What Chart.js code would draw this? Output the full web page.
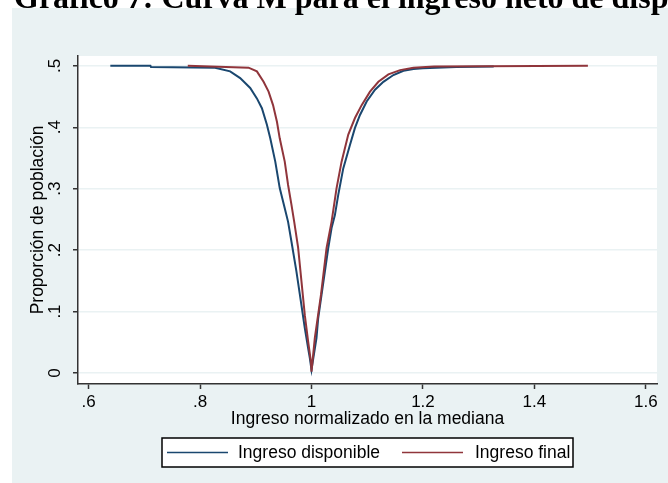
<!DOCTYPE html>
<html>
<head>
<meta charset="utf-8">
<script src="https://cdn.jsdelivr.net/npm/chart.js@4/dist/chart.umd.min.js"></script>
<style>
  html, body { margin: 0; padding: 0; background: #fff; overflow: hidden; }
  #wrap { position: relative; width: 668px; height: 483px; }
  #title {
    position: absolute; left: 14px; top: -19px;
    font: bold 32px "Liberation Serif", "Times New Roman", serif;
    line-height: 32px; white-space: nowrap; color: #000;
  }
</style>
</head>
<body>
<div id="wrap">
  <canvas id="myChart" width="668" height="483"></canvas>
  <div id="title">Gráfico 7: Curva M para el ingreso neto de disponible</div>
</div>
<script>
// Ingreso disponible
var xDisp = [0.639, 0.711, 0.712, 0.827, 0.854, 0.872, 0.890, 0.902, 0.911, 0.920, 0.926, 0.935, 0.943, 0.952, 0.958, 0.964, 0.973, 0.981, 0.988, 0.994, 0.997, 1.000, 1.009, 1.012, 1.018, 1.024, 1.030, 1.036, 1.042, 1.048, 1.057, 1.069, 1.078, 1.087, 1.099, 1.114, 1.129, 1.147, 1.165, 1.183, 1.200, 1.260, 1.327];
var yDisp = [0.500, 0.500, 0.498, 0.497, 0.491, 0.480, 0.464, 0.447, 0.431, 0.404, 0.382, 0.344, 0.301, 0.268, 0.246, 0.214, 0.165, 0.116, 0.073, 0.040, 0.024, 0.005, 0.057, 0.089, 0.127, 0.165, 0.203, 0.236, 0.257, 0.290, 0.333, 0.371, 0.399, 0.420, 0.442, 0.461, 0.474, 0.485, 0.492, 0.495, 0.496, 0.498, 0.499];
// Ingreso final
var xFinal = [0.778, 0.887, 0.902, 0.914, 0.923, 0.931, 0.938, 0.943, 0.952, 0.958, 0.964, 0.969, 0.976, 0.982, 0.988, 0.994, 0.999, 1.000, 1.006, 1.017, 1.027, 1.036, 1.045, 1.054, 1.066, 1.078, 1.090, 1.105, 1.120, 1.138, 1.159, 1.183, 1.220, 1.496];
var yFinal = [0.500, 0.497, 0.491, 0.474, 0.458, 0.436, 0.409, 0.382, 0.344, 0.306, 0.274, 0.246, 0.204, 0.149, 0.094, 0.051, 0.018, 0.002, 0.057, 0.127, 0.203, 0.246, 0.301, 0.344, 0.388, 0.415, 0.436, 0.458, 0.474, 0.486, 0.493, 0.497, 0.499, 0.500];

var xTicks = [0.6, 0.8, 1, 1.2, 1.4, 1.6];
var yTicks = [0, 0.1, 0.2, 0.3, 0.4, 0.5];
var seriesNames = ["Ingreso disponible", "Ingreso final"];

var navy = "#1a476f";
var maroon = "#90353b";
var panelBg = "#eaf2f3";
var font = "Liberation Sans";

function toPoints(xs, ys) {
  return xs.map(function (x, i) { return { x: x, y: ys[i] }; });
}
function stataLabel(v) {
  return String(v).replace(/^0\./, ".");
}

var backgroundPlugin = {
  id: "stataBg",
  beforeDraw: function (chart) {
    var c = chart.ctx, a = chart.chartArea;
    c.save();
    c.fillStyle = panelBg;
    c.fillRect(12, 8, chart.width - 12, chart.height - 8);
    c.fillStyle = "#fff";
    c.fillRect(a.left, a.top, a.right - a.left, a.bottom - a.top);
    c.restore();
  }
};

var legendPlugin = {
  id: "stataLegend",
  afterDraw: function (chart) {
    var c = chart.ctx;
    var box = { left: 162, top: 438, right: 573, bottom: 467 };
    var cy = (box.top + box.bottom) / 2;
    c.save();
    c.fillStyle = "#fff";
    c.fillRect(box.left, box.top, box.right - box.left, box.bottom - box.top);
    c.strokeStyle = "#000";
    c.lineWidth = 1.5;
    c.strokeRect(box.left, box.top, box.right - box.left, box.bottom - box.top);
    var items = [
      { x0: 167, x1: 228, tx: 238 },
      { x0: 402, x1: 463, tx: 475 }
    ];
    c.font = "17.5px '" + font + "'";
    c.textBaseline = "middle";
    c.textAlign = "left";
    chart.data.datasets.forEach(function (ds, i) {
      var it = items[i];
      c.strokeStyle = ds.borderColor;
      c.lineWidth = 1.5;
      c.beginPath();
      c.moveTo(it.x0, cy);
      c.lineTo(it.x1, cy);
      c.stroke();
      c.fillStyle = "#000";
      c.fillText(ds.label, it.tx, cy + 0.5);
    });
    c.restore();
  }
};

var ctx = document.getElementById("myChart").getContext("2d");
var myChart = new Chart(ctx, {
  type: "line",
  data: {
    datasets: [
      {
        label: seriesNames[0],
        data: toPoints(xDisp, yDisp),
        borderColor: navy,
        borderWidth: 2,
        pointRadius: 0,
        tension: 0,
        fill: false,
        order: 2
      },
      {
        label: seriesNames[1],
        data: toPoints(xFinal, yFinal),
        borderColor: maroon,
        borderWidth: 2,
        pointRadius: 0,
        tension: 0,
        fill: false,
        order: 1
      }
    ]
  },
  options: {
    responsive: false,
    animation: false,
    layout: { padding: { left: 0, top: 56, right: 11, bottom: 0 } },
    plugins: {
      legend: { display: false },
      tooltip: { enabled: false }
    },
    scales: {
      x: {
        type: "linear",
        min: 0.581,
        max: 1.62,
        afterBuildTicks: function (s) { s.ticks = xTicks.map(function (v) { return { value: v }; }); },
        afterFit: function (s) { s.height = 99; },
        grid: { display: true, drawOnChartArea: false, tickLength: 5, tickColor: "#333", tickWidth: 1.5 },
        border: { color: "#333", width: 1.5 },
        ticks: {
          color: "#000",
          font: { family: font, size: 17 },
          padding: 3,
          maxRotation: 0,
          callback: function (v) { return stataLabel(v); }
        },
        title: {
          display: true,
          text: "Ingreso normalizado en la mediana",
          color: "#000",
          font: { family: font, size: 17.5 },
          padding: { top: 0, bottom: 53 }
        }
      },
      y: {
        min: -0.018,
        max: 0.516,
        afterBuildTicks: function (s) { s.ticks = yTicks.map(function (v) { return { value: v }; }); },
        afterFit: function (s) { s.width = 78; },
        grid: { color: panelBg, lineWidth: 1.5, tickLength: 5, tickColor: "#333", tickWidth: 1.5 },
        border: { color: "#333", width: 1.5 },
        ticks: {
          color: "#000",
          font: { family: font, size: 17 },
          minRotation: 90,
          maxRotation: 90,
          crossAlign: "center",
          padding: 11,
          callback: function (v) { return stataLabel(v); }
        },
        title: {
          display: true,
          text: "Proporción de población",
          color: "#000",
          font: { family: font, size: 17.5 },
          padding: { top: 28, bottom: 0 }
        }
      }
    }
  },
  plugins: [backgroundPlugin, legendPlugin]
});
</script>
</body>
</html>
